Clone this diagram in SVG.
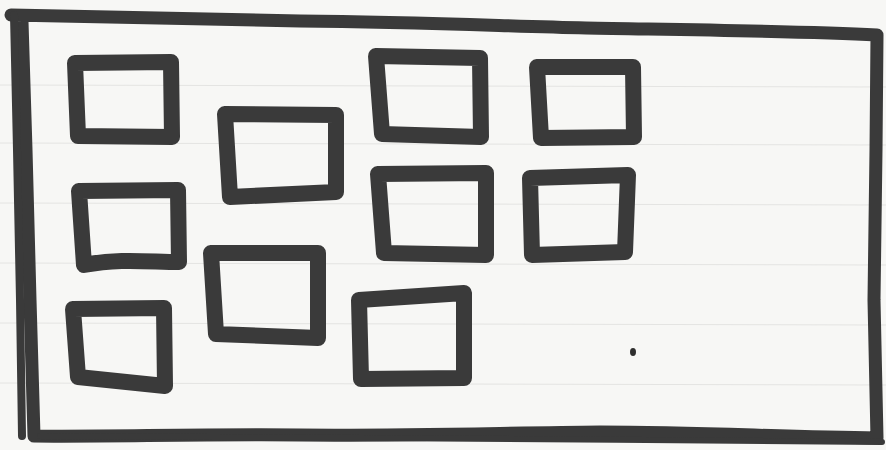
<svg xmlns="http://www.w3.org/2000/svg" width="886" height="450" viewBox="0 0 886 450">
  <style>
    .ink { fill: none; stroke: #3a3a3a; stroke-linejoin: round; stroke-linecap: round; }
    .box { stroke-width: 16; }
    .frame { stroke-width: 13; }
    .rule { stroke: #e4e4e2; stroke-width: 1; }
  </style>
  <rect x="0" y="0" width="886" height="450" fill="#f7f7f5"/>
  <g id="paper-rules">
    <line class="rule" x1="0" y1="85" x2="886" y2="87"/>
    <line class="rule" x1="0" y1="143" x2="886" y2="145"/>
    <line class="rule" x1="0" y1="203" x2="886" y2="205"/>
    <line class="rule" x1="0" y1="263" x2="886" y2="265"/>
    <line class="rule" x1="0" y1="323" x2="886" y2="325"/>
    <line class="rule" x1="0" y1="383" x2="886" y2="385"/>
  </g>
  <g id="frame">
    <path class="ink frame" d="M11,15 C120,18 220,19 300,21 C420,22 500,26 586,28 C700,30 800,31 877,35 L876,150 L874,300 L877,438 C780,437 700,432 600,432 C500,433 400,436 300,435 C200,434 100,437 34,436 L30,300 L26,150 L22,22"/>
    <path class="ink" stroke-width="8" d="M14,15 L17,150 L20,300 L22,436"/>
    <path class="ink" stroke-width="6" d="M40,436 C300,440 600,438 882,442"/>
  </g>
  <g id="box-1"><path class="ink box" d="M75,63 L171,62 L172,137 L78,136 Z"/></g>
  <g id="box-2"><path class="ink box" d="M225,114 L336,115 L336,192 L230,197 Z"/></g>
  <g id="box-3"><path class="ink box" d="M376,56 L480,58 L481,137 L382,134 Z"/></g>
  <g id="box-4"><path class="ink box" d="M537,67 L633,67 L634,137 L541,138 Z"/></g>
  <g id="box-5"><path class="ink box" d="M79,191 L178,190 L179,262 C150,262 120,258 84,265 Z"/></g>
  <g id="box-6"><path class="ink box" d="M378,174 L486,173 L486,255 L384,253 Z"/></g>
  <g id="box-7"><path class="ink box" d="M530,178 L628,175 L625,252 L532,255 Z"/></g>
  <g id="box-8"><path class="ink box" d="M211,253 L318,253 L318,338 L216,334 Z"/></g>
  <g id="box-9"><path class="ink box" d="M73,309 L164,308 L165,386 L78,377 Z"/></g>
  <g id="box-10"><path class="ink box" d="M359,300 L464,293 L464,378 L361,379 Z"/></g>
  <ellipse cx="633" cy="352" rx="3" ry="4" fill="#2e2e2e"/>
</svg>
